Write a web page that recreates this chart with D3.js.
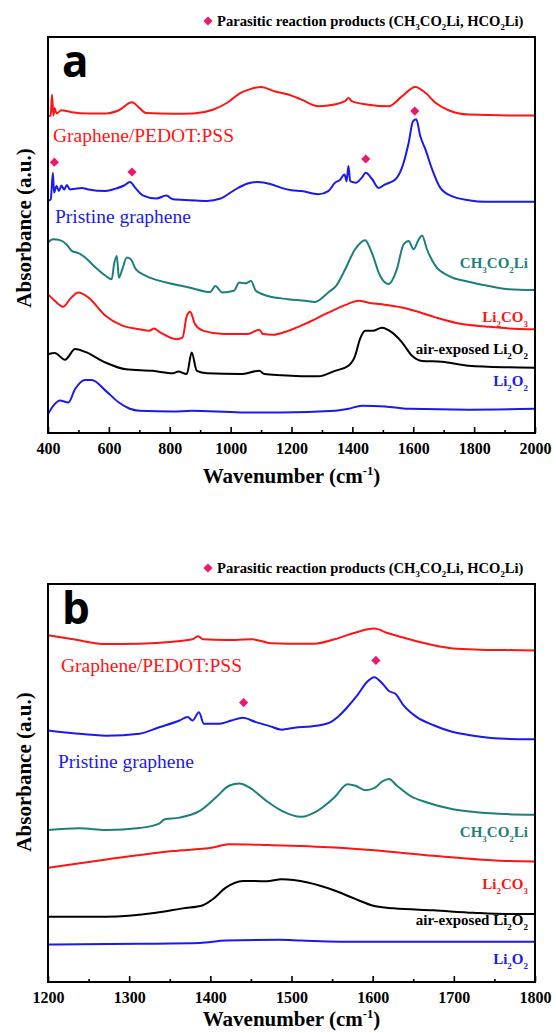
<!DOCTYPE html>
<html>
<head>
<meta charset="utf-8">
<script src="https://cdn.jsdelivr.net/npm/d3@7"></script>
<style>
  body { margin: 0; background: #fff; }
</style>
</head>
<body>
<div id="plot"></div>
<script>
// spectra: [wavenumber, absorbance (a.u., 0-100 = frame height)]

// ---- panel a (400-2000) ----
const aPedot = [[400,80.0],[409,80.2],[413,85.5],[418,80.2],[422,82.1],[428,80.7],[444,81.5],[461,81.3],[478,81.0],[533,80.7],[589,80.7],[633,81.5],[676,83.5],[700,82.1],[722,80.8],[811,80.6],[878,80.7],[944,81.7],[989,83.4],[1033,85.9],[1067,86.9],[1100,87.4],[1144,86.3],[1189,85.5],[1233,84.2],[1288,82.5],[1321,82.7],[1376,83.8],[1387,84.6],[1398,83.8],[1453,82.9],[1519,82.5],[1563,85.0],[1607,87.4],[1640,85.9],[1673,83.4],[1716,81.5],[1782,80.4],[1914,80.2],[2000,80.2]];
const aPristine = [[400,58.6],[409,59.0],[416,65.7],[420,60.7],[428,62.4],[436,61.1],[444,62.5],[453,61.5],[462,62.6],[472,61.5],[489,61.7],[511,61.9],[533,61.5],[589,61.1],[622,61.7],[650,62.5],[669,63.4],[689,61.7],[711,60.0],[756,59.2],[789,60.0],[811,59.0],[867,58.8],[922,58.6],[967,59.2],[1011,61.3],[1056,63.0],[1089,63.4],[1133,62.8],[1167,61.9],[1200,61.3],[1233,61.1],[1288,60.3],[1321,61.1],[1343,63.2],[1359,63.9],[1374,65.3],[1381,63.6],[1387,67.4],[1393,63.6],[1411,63.2],[1431,64.5],[1444,65.7],[1464,64.2],[1486,61.9],[1508,62.8],[1541,64.0],[1563,67.0],[1585,73.3],[1599,78.7],[1610,79.2],[1623,75.0],[1640,71.6],[1662,66.6],[1689,61.9],[1727,59.8],[1782,58.8],[1837,58.4],[2000,58.4]];
const aAcetate = [[400,48.1],[417,48.9],[439,48.7],[461,47.6],[478,46.0],[500,45.4],[522,44.3],[556,41.8],[589,39.7],[609,38.8],[618,43.0],[626,44.7],[633,39.2],[644,41.3],[659,44.3],[672,43.9],[689,41.3],[722,39.7],[789,38.0],[867,36.7],[933,35.6],[950,37.1],[972,35.5],[1011,35.9],[1028,38.0],[1050,37.8],[1067,38.4],[1083,35.9],[1122,34.6],[1189,33.8],[1244,33.4],[1277,33.1],[1321,35.5],[1348,37.3],[1376,41.3],[1409,46.4],[1442,48.7],[1464,45.5],[1491,39.7],[1519,37.6],[1546,41.3],[1568,47.6],[1585,48.5],[1601,46.4],[1618,48.9],[1629,49.9],[1645,46.4],[1673,42.2],[1716,39.7],[1782,38.2],[1848,37.1],[1914,36.3],[2000,36.1]];
const aCarbonate = [[400,35.0],[422,33.4],[450,31.9],[472,33.8],[500,35.5],[533,34.2],[589,29.6],[644,27.1],[700,26.2],[733,25.8],[748,26.4],[767,25.5],[822,23.7],[842,24.1],[856,29.6],[867,30.6],[883,27.5],[911,25.8],[978,25.0],[1056,25.0],[1094,26.1],[1106,25.0],[1140,24.8],[1189,25.8],[1255,27.9],[1321,30.4],[1376,32.3],[1420,33.4],[1453,32.9],[1497,32.5],[1563,31.7],[1607,30.8],[1673,29.2],[1760,27.5],[1837,26.9],[1914,26.4],[2000,26.2]];
const aAirLi2O2 = [[400,19.9],[422,20.2],[456,18.5],[489,21.2],[522,20.5],[589,17.8],[656,16.1],[744,15.7],[811,15.1],[828,15.5],[856,14.9],[872,20.3],[889,15.7],[922,15.1],[1033,14.9],[1094,15.7],[1111,14.9],[1167,14.6],[1288,14.3],[1343,15.7],[1387,17.0],[1409,19.5],[1425,23.7],[1442,25.8],[1469,25.8],[1497,26.6],[1530,25.4],[1563,22.9],[1596,19.5],[1629,18.2],[1694,18.0],[1782,17.0],[1914,16.6],[2000,16.5]];
const aLi2O2 = [[400,4.8],[422,7.3],[439,8.2],[467,7.7],[489,11.1],[522,13.4],[544,13.4],[589,10.7],[633,7.7],[667,6.2],[700,5.6],[811,5.4],[872,5.6],[1033,5.2],[1167,5.2],[1343,5.6],[1387,6.1],[1431,6.9],[1508,6.7],[1585,6.1],[1782,5.9],[2000,6.1]];
const aMarkers = [[421,68.4],[676,65.9],[1444,69.2],[1605,81.3]];
const aTicksMajor = [400,600,800,1000,1200,1400,1600,1800,2000];
const aTicksMinor = [500,700,900,1100,1300,1500,1700,1900];

// ---- panel b (1200-1800) ----
const bPedot = [[1200,87.1],[1231,86.1],[1272,84.9],[1313,85.0],[1354,85.5],[1378,86.1],[1385,86.9],[1391,86.1],[1419,85.9],[1452,86.1],[1475,85.1],[1496,85.0],[1528,85.0],[1553,86.1],[1577,87.7],[1602,88.8],[1618,87.7],[1642,86.3],[1675,84.6],[1699,83.8],[1732,83.5],[1764,83.4],[1800,83.3]];
const bPristine = [[1200,63.2],[1231,62.5],[1272,61.9],[1313,62.4],[1337,64.0],[1362,65.7],[1372,66.6],[1378,65.7],[1386,67.8],[1392,64.9],[1411,64.9],[1426,65.7],[1440,66.4],[1456,65.3],[1473,64.3],[1488,63.4],[1504,63.9],[1524,64.2],[1545,65.0],[1557,66.6],[1569,69.1],[1581,72.0],[1593,75.4],[1602,76.6],[1612,75.0],[1620,73.1],[1628,72.4],[1638,69.5],[1654,66.6],[1675,64.5],[1699,62.8],[1724,61.9],[1764,61.1],[1800,61.0]];
const bAcetate = [[1200,38.2],[1239,38.6],[1272,38.2],[1313,38.7],[1337,39.8],[1344,40.9],[1362,41.3],[1387,43.0],[1407,46.4],[1423,49.3],[1436,49.9],[1448,48.9],[1469,45.5],[1488,43.0],[1512,41.5],[1532,43.0],[1553,46.4],[1569,49.7],[1579,49.3],[1591,48.2],[1602,48.7],[1612,50.4],[1620,51.0],[1630,49.3],[1646,46.8],[1667,45.1],[1699,43.4],[1732,42.6],[1764,42.2],[1800,42.0]];
const bCarbonate = [[1200,28.7],[1272,30.8],[1354,32.9],[1403,33.8],[1423,34.6],[1471,34.4],[1553,33.8],[1602,33.1],[1675,31.7],[1764,30.4],[1800,30.3]];
const bAirLi2O2 = [[1200,16.4],[1272,16.4],[1333,17.4],[1366,18.5],[1391,19.3],[1403,20.8],[1419,23.7],[1440,25.4],[1469,25.3],[1488,25.8],[1520,25.0],[1553,23.0],[1577,21.0],[1602,19.1],[1626,18.5],[1675,18.0],[1724,17.4],[1764,17.1],[1800,17.1]];
const bLi2O2 = [[1200,9.4],[1313,9.6],[1387,9.8],[1419,10.4],[1485,10.6],[1512,10.4],[1577,10.1],[1800,10.1]];
const bMarkers = [[1441,70.2],[1604,80.8]];
const bTicksMajor = [1200,1300,1400,1500,1600,1700,1800];
const bTicksMinor = [1250,1350,1450,1550,1650,1750];

const red = "#ff1414";
const blue = "#1a1aee";
const teal = "#1d7f7a";
const pink = "#f0166e";
const serif = "'Liberation Serif', 'Times New Roman', serif";

const w = 556;
const h = 1033;

const svg = d3.select("div#plot")
      .append("svg")
      .attr("width", w)
      .attr("height", h);

svg.append("rect")
      .attr("width", w)
      .attr("height", h)
      .attr("fill", "white");

// text with sub/superscripts: parts = [[text, 0 normal | 1 sub | -1 sup], ...]
function richText(g, x, y, parts, opts) {
  const t = g.append("text")
      .attr("x", x)
      .attr("y", y)
      .attr("font-family", serif)
      .attr("font-size", opts.size)
      .attr("font-weight", opts.weight || "normal")
      .attr("fill", opts.color || "black")
      .attr("text-anchor", opts.anchor || "start");
  if (opts.rotate) t.attr("transform", `rotate(-90, ${x}, ${y})`);
  let shift = 0;
  parts.forEach(([s, k]) => {
    const want = k === 1 ? opts.size * 0.3 : (k === -1 ? -opts.size * 0.4 : 0);
    t.append("tspan")
      .attr("dy", want - shift)
      .attr("font-size", k === 0 ? opts.size : opts.size * 0.6)
      .text(s);
    shift = want;
  });
  return t;
}

const diamond = d3.symbol().type(d3.symbolSquare).size(42);

function drawPanel(p) {
  const m = {left: 48, right: 535, top: p.top, bottom: p.bottom};

  const x = d3.scaleLinear().domain(p.domain).range([m.left, m.right]);
  const y = d3.scaleLinear().domain([0, 100]).range([m.bottom, m.top]);

  const g = svg.append("g");

  // legend above frame
  g.append("path")
      .attr("d", diamond)
      .attr("transform", `translate(208, ${p.top - 16}) rotate(45)`)
      .attr("fill", pink);
  richText(g, 217, p.top - 11,
      [["Parasitic reaction products (CH", 0], ["3", 1], ["CO", 0], ["2", 1], ["Li, HCO", 0], ["2", 1], ["Li)", 0]],
      {size: 14.6, weight: "bold"});

  const line = d3.line()
      .curve(d3.curveMonotoneX)
      .x(d => x(d[0]))
      .y(d => y(d[1]));

  p.series.forEach(s => {
    g.append("path")
      .datum(s.data)
      .attr("d", line)
      .attr("fill", "none")
      .attr("stroke", s.color)
      .attr("stroke-width", 2)
      .attr("stroke-linejoin", "round");
  });

  g.selectAll(".mark")
      .data(p.markers)
      .enter()
      .append("path")
      .attr("class", "mark")
      .attr("d", diamond)
      .attr("transform", d => `translate(${x(d[0])}, ${y(d[1])}) rotate(45)`)
      .attr("fill", pink);

  // trace names
  p.labels.forEach(l => {
    richText(g, l.x, l.y, l.parts, {size: l.size, weight: l.weight, color: l.color, anchor: l.anchor});
  });

  // bottom axis, ticks pointing in
  g.append("g")
      .attr("transform", `translate(0, ${m.bottom})`)
      .call(d3.axisBottom(x).tickValues(p.minor).tickSize(-3).tickFormat(""))
      .call(a => a.select(".domain").remove())
      .selectAll("line").attr("stroke-width", 1.6);

  const ax = g.append("g")
      .attr("transform", `translate(0, ${m.bottom})`)
      .call(d3.axisBottom(x).tickValues(p.major).tickSize(-6).tickPadding(10).tickFormat(d3.format("d")));
  ax.select(".domain").remove();
  ax.selectAll("line").attr("stroke-width", 1.6);
  ax.selectAll("text")
      .attr("font-family", serif)
      .attr("font-weight", "bold")
      .attr("font-size", 16)
      .attr("fill", "black");

  // frame
  g.append("rect")
      .attr("x", m.left)
      .attr("y", m.top)
      .attr("width", m.right - m.left)
      .attr("height", m.bottom - m.top)
      .attr("fill", "none")
      .attr("stroke", "black")
      .attr("stroke-width", 2);

  // panel letter
  g.append("text")
      .attr("x", 62)
      .attr("y", p.top + 40)
      .attr("font-family", "'Open Sans', 'Liberation Sans', sans-serif")
      .attr("font-weight", "bold")
      .attr("font-size", 44)
      .text(p.letter);

  richText(g, (m.left + m.right) / 2, m.bottom + p.xLabelGap,
      [["Wavenumber (cm", 0], ["-1", -1], [")", 0]],
      {size: 21, weight: "bold", anchor: "middle"});

  richText(g, 31, p.yLabelMid, [["Absorbance (a.u.)", 0]],
      {size: 21, weight: "bold", anchor: "middle", rotate: true});
}

drawPanel({
  letter: "a", top: 37, bottom: 433, domain: [400, 2000], yLabelMid: 228, xLabelGap: 50,
  major: aTicksMajor, minor: aTicksMinor, markers: aMarkers,
  series: [
    {data: aPedot, color: red}, {data: aPristine, color: blue}, {data: aAcetate, color: teal},
    {data: aCarbonate, color: red}, {data: aAirLi2O2, color: "black"}, {data: aLi2O2, color: blue}
  ],
  labels: [
    {x: 53, y: 142, parts: [["Graphene/PEDOT:PSS", 0]], size: 19.5, color: red},
    {x: 55, y: 223, parts: [["Pristine graphene", 0]], size: 19.5, color: blue},
    {x: 528, y: 268, parts: [["CH", 0], ["3", 1], ["CO", 0], ["2", 1], ["Li", 0]], size: 15, weight: "bold", color: teal, anchor: "end"},
    {x: 528, y: 322, parts: [["Li", 0], ["2", 1], ["CO", 0], ["3", 1]], size: 15, weight: "bold", color: red, anchor: "end"},
    {x: 528, y: 354, parts: [["air-exposed Li", 0], ["2", 1], ["O", 0], ["2", 1]], size: 15, weight: "bold", color: "black", anchor: "end"},
    {x: 528, y: 386, parts: [["Li", 0], ["2", 1], ["O", 0], ["2", 1]], size: 15, weight: "bold", color: blue, anchor: "end"}
  ]
});

drawPanel({
  letter: "b", top: 584, bottom: 982, domain: [1200, 1800], yLabelMid: 772, xLabelGap: 44,
  major: bTicksMajor, minor: bTicksMinor, markers: bMarkers,
  series: [
    {data: bPedot, color: red}, {data: bPristine, color: blue}, {data: bAcetate, color: teal},
    {data: bCarbonate, color: red}, {data: bAirLi2O2, color: "black"}, {data: bLi2O2, color: blue}
  ],
  labels: [
    {x: 61, y: 672, parts: [["Graphene/PEDOT:PSS", 0]], size: 19.5, color: red},
    {x: 58, y: 768, parts: [["Pristine graphene", 0]], size: 19.5, color: blue},
    {x: 528, y: 837, parts: [["CH", 0], ["3", 1], ["CO", 0], ["2", 1], ["Li", 0]], size: 15, weight: "bold", color: teal, anchor: "end"},
    {x: 528, y: 889, parts: [["Li", 0], ["2", 1], ["CO", 0], ["3", 1]], size: 15, weight: "bold", color: red, anchor: "end"},
    {x: 528, y: 925, parts: [["air-exposed Li", 0], ["2", 1], ["O", 0], ["2", 1]], size: 15, weight: "bold", color: "black", anchor: "end"},
    {x: 528, y: 964, parts: [["Li", 0], ["2", 1], ["O", 0], ["2", 1]], size: 15, weight: "bold", color: blue, anchor: "end"}
  ]
});
</script>
</body>
</html>
